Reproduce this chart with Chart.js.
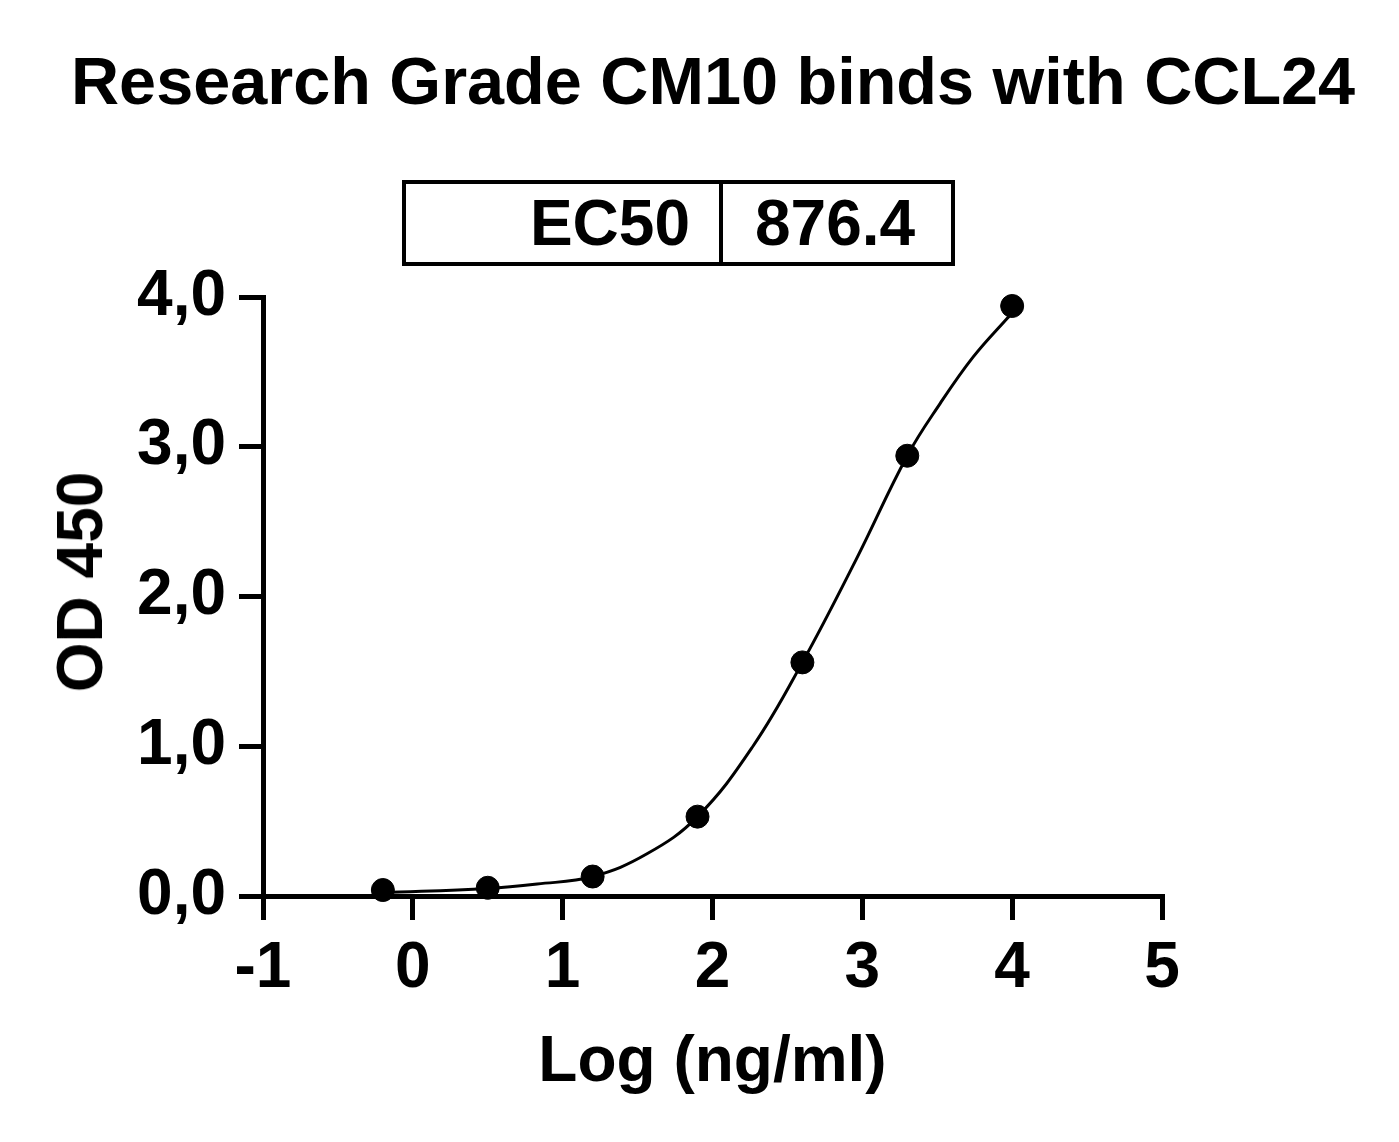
<!DOCTYPE html>
<html>
<head>
<meta charset="utf-8">
<script src="https://cdn.jsdelivr.net/npm/chart.js@4.4.1/dist/chart.umd.min.js"></script>
<style>
body { margin: 0; background: #fff; }
#wrap { position: relative; width: 1399px; height: 1142px; }
#chart { position: absolute; left: 0; top: 0; }
.txt { position: absolute; font-family: "Liberation Sans", Arial, sans-serif; font-weight: bold; color: #000; white-space: nowrap; }
#title { left: 71px; top: 48px; font-size: 66.6px; line-height: 66px; }
#ecBox { position: absolute; left: 402px; top: 180px; width: 553px; height: 86px; border: 4px solid #000; box-sizing: border-box; }
#ecDiv { position: absolute; left: 719px; top: 180px; width: 4px; height: 86px; background: #000; }
#ecLabel { right: 709px; top: 191px; font-size: 64px; line-height: 64px; }
#ecValue { left: 755px; top: 191px; font-size: 64px; line-height: 64px; }
#yTitle { left: 80px; top: 582px; font-size: 64px; line-height: 64px; transform: translate(-50%, -50%) rotate(-90deg); }
</style>
</head>
<body>
<div id="wrap">
  <canvas id="chart" width="1399" height="1142"></canvas>
  <div class="txt" id="title">Research Grade CM10 binds with CCL24</div>
  <div id="ecBox"></div>
  <div id="ecDiv"></div>
  <div class="txt" id="ecLabel">EC50</div>
  <div class="txt" id="ecValue">876.4</div>
  <div class="txt" id="yTitle">OD 450</div>
</div>
<script>
const logConc = [-0.2, 0.5, 1.2, 1.9, 2.6, 3.3, 4.0];
const od450 = [0.04, 0.055, 0.13, 0.53, 1.56, 2.94, 3.94];
// fitted curve
const fitX = [-0.2, 0.5, 0.83, 1.2, 1.56, 1.9, 2.27, 2.6, 2.96, 3.3, 3.52, 3.74, 3.96, 4.0];
const fitY = [0.022, 0.05, 0.08, 0.13, 0.28, 0.53, 1.0, 1.56, 2.25, 2.94, 3.29, 3.6, 3.85, 3.89];
const xTickLabels = ['-1', '0', '1', '2', '3', '4', '5'];
const yTickLabels = ['0,0', '1,0', '2,0', '3,0', '4,0'];

const font = { family: '"Liberation Sans", Arial, sans-serif', weight: 'bold', size: 64 };

const points = logConc.map((x, i) => ({ x: x, y: od450[i] }));
const fit = fitX.map((x, i) => ({ x: x, y: fitY[i] }));

new Chart(document.getElementById('chart'), {
    type: 'scatter',
    data: {
        datasets: [{
            data: fit,
            showLine: true,
            tension: 0.4,
            borderColor: '#000',
            borderWidth: 3,
            pointRadius: 0,
            clip: false
        }, {
            data: points,
            showLine: false,
            borderColor: '#000',
            backgroundColor: '#000',
            pointRadius: 11.5,
            pointBorderWidth: 1,
            clip: false
        }]
    },
    options: {
        responsive: false,
        animation: false,
        devicePixelRatio: 1,
        layout: { padding: { left: 0, top: 297, right: 237, bottom: 40 } },
        plugins: { legend: { display: false }, tooltip: { enabled: false } },
        scales: {
            x: {
                type: 'linear', min: -1, max: 5,
                afterFit: (s) => { s.height = 206; },
                ticks: { stepSize: 1, font: font, color: '#000', padding: 11,
                    callback: (v, i) => xTickLabels[i] },
                grid: { drawOnChartArea: false, color: '#000', lineWidth: 5, tickLength: 24 },
                border: { display: true, color: '#000', width: 5 },
                title: { display: true, text: 'Log (ng/ml)', font: font, color: '#000', padding: { top: 0, bottom: 0 } }
            },
            y: {
                type: 'linear', min: 0, max: 4,
                afterFit: (s) => { s.width = 263; },
                ticks: { stepSize: 1, font: font, color: '#000', padding: 13,
                    callback: (v, i) => yTickLabels[i] },
                grid: { drawOnChartArea: false, color: '#000', lineWidth: 5, tickLength: 24 },
                border: { display: true, color: '#000', width: 5 }
            }
        }
    }
});
</script>
</body>
</html>
